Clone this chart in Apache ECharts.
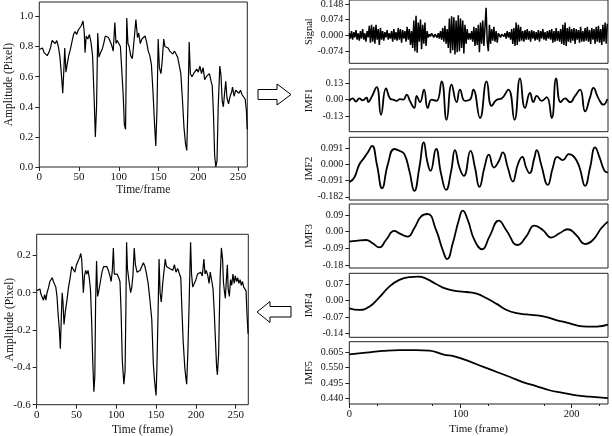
<!DOCTYPE html>
<html><head><meta charset="utf-8">
<script src="https://cdn.jsdelivr.net/npm/echarts@6/dist/echarts.min.js"></script>
<style>html,body{margin:0;padding:0;background:#fff}#c{width:612px;height:436px}</style>
</head><body><div id="c"></div>
<script>
// ---------- DATA ----------
const topFrames = [0,2,4,6,8,10,12,14,16,18,20,22,24,26,28,29.5,31,32,33.5,35,37,39,41,43,45,47,49,51,53,55,56.5,57.5,59,61,63,65,67,69,70.5,72,73.5,75,77,79,81,83,85,87,89,91,93,95,96.5,98,100,102,104,105.5,107,108.5,110,111.5,113,115,117,119,121.5,123.5,125,127,129,131,133,135,137,139,141,143,145,146.5,148,149.5,151,153,154.5,156.5,158,160,162,164,166,168,170,172,174,176,178,180,182,184,185.5,187,188.5,190,192,194,196,198,200,202,204,206,208,210,212,214,216,217.5,219,220.5,222,223.5,225,227,228.5,230,231.5,233,234.5,236,238,240,242,243,245,247,249,251,253,255,257,259,260.5,261.5];
const topAmp = [0.78,0.77,0.79,0.76,0.77,0.74,0.76,0.79,0.84,0.85,0.82,0.84,0.80,0.73,0.60,0.49,0.66,0.79,0.63,0.68,0.74,0.78,0.83,0.88,0.90,0.88,0.91,0.92,0.94,0.97,0.90,0.76,0.87,0.85,0.88,0.83,0.74,0.45,0.20,0.40,0.89,0.73,0.76,0.78,0.82,0.87,0.88,0.86,0.86,0.81,0.77,0.96,0.82,0.84,0.82,0.80,0.79,0.48,0.28,0.25,0.99,0.82,0.80,0.74,0.72,0.83,0.98,0.86,0.89,0.82,0.85,0.86,0.87,0.83,0.77,0.74,0.68,0.50,0.28,0.14,0.38,0.85,0.66,0.62,0.70,0.85,0.80,0.79,0.79,0.77,0.78,0.75,0.77,0.75,0.73,0.72,0.62,0.45,0.26,0.15,0.11,0.42,0.83,0.62,0.60,0.62,0.61,0.65,0.63,0.67,0.62,0.66,0.58,0.60,0.59,0.62,0.57,0.54,0.36,0.08,0.00,0.04,0.40,0.67,0.61,0.44,0.40,0.49,0.57,0.46,0.42,0.47,0.50,0.53,0.47,0.51,0.50,0.49,0.51,0.48,0.47,0.45,0.37,0.25];

const botFrames = [0,1,2.5,4,5.5,7,8.5,10,11.5,13,15,16.5,18,19.5,21,22.5,24,25.5,27,28.5,29.7,31,32,33,34.3,36,38,40,42,44,46,48,50,52,54,55.3,56.5,57.5,58.6,60,61.5,63,64.5,66,67.5,69,70.5,71.8,73,74,75.2,76.5,78,80,82,84,86,88,90,92,93.5,95,96.3,97.5,99,101,103,104.6,106,107.5,109.5,111,112,112.9,114,116,118,119.5,121,122.5,124,126,128,130,132,134,136,138,140,142,144.5,146.5,148,149.9,151,152.5,153.7,155,156.5,158.3,160,161.5,163,165,167,169,171,173,175,177,179,181,182.5,184,186,187.5,188.4,190,191.5,193.3,194.5,196,198,200,202,204,206,208,210,211.5,213,215,216.5,218,220,221.5,223,224.5,226,227,228.5,230,230.5,232,233.5,234.5,236,237,238,239.5,240.5,242,243.5,245,246.5,248,249.5,251,252.5,254,255.5,257,258.5,260,261.5,263,264,265.5];
const botAmp = [0.01,0.02,0.00,0.02,-0.01,0.00,-0.04,-0.01,-0.04,0.00,0.03,0.06,0.05,0.08,0.06,0.07,0.03,-0.02,-0.12,-0.20,-0.30,-0.12,0.00,-0.05,-0.17,-0.10,-0.04,0.03,0.08,0.14,0.13,0.11,0.15,0.16,0.19,0.21,0.18,0.10,0.00,0.09,0.12,0.10,0.12,0.08,0.02,-0.15,-0.38,-0.53,-0.45,-0.05,0.17,-0.02,0.01,0.06,0.11,0.14,0.15,0.14,0.12,0.09,0.06,0.12,0.24,0.10,0.09,0.10,0.08,0.06,-0.10,-0.36,-0.49,-0.42,-0.10,0.27,0.13,0.06,0.00,0.03,0.10,0.24,0.15,0.11,0.10,0.12,0.14,0.16,0.14,0.10,0.05,-0.03,-0.14,-0.38,-0.47,-0.55,-0.40,-0.10,0.18,0.00,-0.05,0.05,0.12,0.18,0.14,0.15,0.13,0.14,0.12,0.15,0.11,0.13,0.12,0.08,-0.10,-0.26,-0.40,-0.46,-0.49,-0.30,-0.05,0.27,0.10,0.03,0.04,0.07,0.10,0.09,0.11,0.09,0.18,0.10,0.12,0.09,0.05,0.11,0.06,0.02,-0.10,-0.25,-0.40,-0.44,-0.33,0.00,0.09,0.24,0.18,0.06,0.00,-0.03,0.05,0.15,0.02,-0.02,0.07,0.04,0.10,0.05,0.09,0.06,0.08,0.05,0.07,0.04,0.06,0.03,0.02,0.01,-0.10,-0.22];

const signalAmp = [
0.01,-0.015,0.02,-0.02,0.015,-0.01,0.025,-0.02,0.01,-0.025,
0.02,-0.015,0.03,-0.02,0.01,-0.03,0.02,-0.01,0.045,-0.035,
0.05,-0.03,0.04,-0.04,0.05,-0.02,0.03,-0.045,0.035,-0.02,
0.02,-0.025,0.015,-0.01,0.025,-0.02,0.01,-0.015,0.02,-0.03,
0.03,-0.02,0.015,-0.025,0.035,-0.02,0.03,-0.035,0.025,-0.015,
0.02,-0.03,0.04,-0.02,0.03,-0.045,0.02,-0.06,0.07,-0.075,
0.092,-0.082,0.06,-0.03,0.075,-0.065,0.05,-0.04,0.06,-0.05,
0.02,-0.01,0.005,-0.005,0.01,0.0,-0.01,0.005,0.0,-0.01,
0.01,-0.015,0.02,-0.02,0.035,-0.03,0.045,-0.04,0.03,-0.06,
0.08,-0.085,0.09,-0.07,0.085,-0.09,0.07,-0.08,0.095,-0.075,
0.08,-0.06,0.07,-0.085,0.05,-0.04,0.03,-0.02,0.01,-0.02,
0.02,-0.03,0.04,-0.05,0.035,-0.045,0.05,-0.08,0.06,-0.04,
0.07,-0.05,0.04,0.13,-0.03,-0.075,0.05,-0.04,0.03,-0.025,
0.04,-0.03,0.02,-0.035,0.01,0.0,-0.01,0.005,0.0,-0.005,
0.01,-0.015,0.02,-0.01,0.015,-0.02,0.03,-0.04,0.035,-0.05,
0.06,-0.045,0.05,-0.03,0.04,-0.025,0.02,-0.03,0.025,-0.02,
0.03,-0.02,0.02,-0.03,0.025,-0.015,0.02,-0.025,0.015,-0.02,
0.025,-0.03,0.02,-0.015,0.03,-0.02,0.015,-0.025,0.02,-0.015,
0.025,-0.02,0.03,-0.035,0.02,-0.03,0.035,-0.025,0.02,-0.03,
0.03,-0.04,0.05,-0.045,0.06,-0.05,0.035,-0.03,0.04,-0.035,
0.03,-0.025,0.035,-0.04,0.03,-0.02,0.025,-0.035,0.04,-0.03,
0.02,-0.03,0.035,-0.025,0.04,-0.03,0.025,-0.04,0.035,-0.02,
0.03,-0.04,0.04,-0.03,0.045,-0.035,0.03,-0.045,0.05,-0.03,
0.06,-0.04,0.055];

const imf1Frames = [0,3,6,9,12,15.6,17,20,24.6,28.5,33,36.6,39.5,42.5,45.5,48.6,51.6,54.5,58.4,60.6,63.6,67.2,70.5,74,78.5,83,87.5,92,96.5,99.5,104,108.5,111.5,117.5,123.5,128,132.5,137,143,148.5,153.5,158,162.5,165.5,168.5,173,177.5,182,186,190,194,198.5,203,207.5,212,216.5,219.5,224,228.5,232];
const imf1 = [-0.01,0.01,-0.015,0.01,-0.005,0.015,-0.02,0.02,0.10,-0.12,0.09,0.01,0.0,-0.01,0.005,0.0,0.04,-0.01,-0.066,0.03,-0.02,0.08,-0.066,0.0,-0.01,0.146,-0.16,0.12,-0.02,0.08,-0.01,0.0,0.08,-0.146,0.146,-0.05,0.0,0.01,0.08,-0.16,0.17,-0.066,0.053,-0.02,0.03,-0.01,0.02,-0.146,0.17,-0.02,0.01,-0.02,0.03,0.08,-0.093,0.02,0.093,0.01,-0.04,0.005];

const imf2Frames = [0,4.5,9,13.6,16.6,20.5,24.8,29.5,34.6,40.5,45,49.5,54,58.5,63,67,70,73,78,82.6,87,91.6,95,99,103,109,113,117,121.5,125.5,130,134.5,138,142.5,147,151.5,155.5,159,162,166.5,168.5,172.5,178.5,183,187,192,197.5,202.5,207,212,216.5,221,225,229.5,232.5];
const imf2 = [-0.10,-0.073,0.0,0.04,0.068,0.105,0.0,-0.134,0.0,0.087,0.077,0.058,-0.036,-0.149,-0.017,0.124,0.02,-0.036,0.087,-0.055,-0.143,-0.036,0.081,-0.017,-0.064,0.077,-0.017,-0.126,-0.017,0.055,-0.017,0.02,0.068,-0.017,-0.096,0.0,0.043,-0.017,-0.049,0.04,0.081,0.0,-0.115,-0.017,0.043,0.025,0.058,0.04,-0.017,-0.12,-0.017,0.096,0.04,-0.036,-0.045];

const imf3Frames = [0,6,15,21,27,33,40.5,45,52.4,58.4,64.4,70.4,78,84,88,93,98.5,102,106.5,112.5,119.5,126,134.5,141,151.5,159,166.5,174,181.5,189,196.5,204,212,219,226.5,232.5];
const imf3 = [-0.054,-0.05,-0.045,-0.063,-0.085,-0.045,0.004,-0.009,-0.027,0.018,0.081,0.095,0.009,-0.099,-0.148,-0.063,0.063,0.113,0.063,-0.045,-0.095,-0.027,0.059,0.009,-0.072,-0.027,0.032,0.009,-0.032,-0.009,0.013,-0.018,-0.067,-0.045,0.018,0.054];

const imf4Frames = [0,9,18,27,36,45,54.5,62,69.5,78,87.5,96.5,105.5,114.5,123.5,132.5,141.5,150.5,159.5,168.5,177.5,186,195.5,204.5,213.5,222.5,232.5];
const imf4 = [-0.033,-0.04,-0.026,0.014,0.06,0.089,0.101,0.103,0.093,0.071,0.05,0.041,0.037,0.03,0.01,-0.014,-0.04,-0.054,-0.059,-0.063,-0.071,-0.083,-0.094,-0.106,-0.111,-0.111,-0.103];

const imf5Frames = [0,15,30,45,60,72,84,96,108,120,132,144,156,168,180,192,204,216,232.5];
const imf5 = [0.597,0.603,0.609,0.612,0.612,0.610,0.597,0.588,0.572,0.553,0.535,0.517,0.498,0.484,0.469,0.460,0.451,0.446,0.441];

// tick labels
const topYTicks = [0, 0.2, 0.4, 0.6, 0.8, 1.0];
const leftXTicks = [0, 50, 100, 150, 200, 250];
const botYTicks = [-0.6, -0.4, -0.2, 0, 0.2];
const signalTicks = [-0.074, 0, 0.074, 0.148];
const imf1Ticks = [-0.13, 0, 0.13];
const imf2Ticks = [-0.182, -0.091, 0, 0.091];
const imf3Ticks = [-0.18, -0.09, 0, 0.09];
const imf4Ticks = [-0.14, -0.07, 0, 0.07];
const imf5Ticks = [0.44, 0.495, 0.55, 0.605];
const rightXTicks = [0, 100, 200];

// ---------- CHART ----------
const zip = (xs, ys) => xs.map((x, i) => [x, ys[i]]);
const FONT = 'Liberation Serif';
const AX = '#222';

function mkGrid(l, t, w, h) {
  return {left: l, top: t, width: w, height: h, show: true, borderColor: AX, borderWidth: 1,
          backgroundColor: 'transparent', containLabel: false, outerBoundsMode: 'none'};
}
function mkY(gi, min, max, ticks, dec, name, gap, fs) {
  return {type: 'value', gridIndex: gi, min: min, max: max,
    axisLine: {show: false, onZero: false}, splitLine: {show: false},
    axisTick: {show: true, inside: false, length: 4, customValues: ticks, lineStyle: {color: AX}},
    axisLabel: {customValues: ticks, margin: 6, color: '#111', fontFamily: FONT, fontSize: fs,
      formatter: v => Number(v).toFixed(dec)},
    name: name, nameLocation: 'middle', nameRotate: 90, nameGap: gap, nameMoveOverlap: false,
    nameTextStyle: {fontFamily: FONT, fontSize: fs + 0.5, color: '#111'}};
}
function mkX(gi, min, max, ticks, name, gap, fs, showLabels) {
  return {type: 'value', gridIndex: gi, min: min, max: max,
    axisLine: {show: false, onZero: false}, splitLine: {show: false},
    axisTick: {show: !!ticks, inside: false, length: 4, customValues: ticks || [], lineStyle: {color: AX}},
    axisLabel: {show: !!showLabels, customValues: ticks || [], margin: 5, color: '#111', fontFamily: FONT, fontSize: fs},
    name: name || '', nameLocation: 'middle', nameGap: gap, nameMoveOverlap: false,
    nameTextStyle: {fontFamily: FONT, fontSize: fs + 0.5, color: '#111'}};
}
function mkLine(gi, data, w, smooth) {
  return {type: 'line', xAxisIndex: gi, yAxisIndex: gi, data: data, showSymbol: false, symbol: 'none',
    smooth: smooth || false, animation: false, lineStyle: {color: '#000', width: w}, z: 3};
}

const RL = 349.3, RW = 258.7, RXMAX = 232.6;
const grids = [
  mkGrid(39.3, 2, 208, 165),
  mkGrid(36.7, 234.3, 211.6, 170.4),
  mkGrid(RL, 0, RW, 63.3),
  mkGrid(RL, 69, RW, 62.7),
  mkGrid(RL, 137.3, RW, 62.7),
  mkGrid(RL, 204, RW, 64),
  mkGrid(RL, 273.3, RW, 64),
  mkGrid(RL, 341.7, RW, 62.3)
];
const xAxes = [
  mkX(0, 0, 261.6, leftXTicks, 'Time/frame', 17, 11, true),
  mkX(1, 0, 265.8, leftXTicks, 'Time (frame)', 19, 11, true),
  mkX(2, 0, RXMAX, null), mkX(3, 0, RXMAX, null), mkX(4, 0, RXMAX, null),
  mkX(5, 0, RXMAX, null), mkX(6, 0, RXMAX, null),
  mkX(7, 0, RXMAX, rightXTicks, 'Time (frame)', 20, 10.5, true)
];
xAxes[7].minorTick = {show: true, splitNumber: 2, length: 2, lineStyle: {color: AX}};
const yAxes = [
  mkY(0, 0, 1.096, topYTicks, 1, 'Amplitude (Pixel)', 24, 11),
  mkY(1, -0.6, 0.313, botYTicks, 1, 'Amplitude (Pixel)', 21, 11),
  mkY(2, -0.132, 0.167, signalTicks, 3, 'Signal', 35, 10),
  mkY(3, -0.255, 0.244, imf1Ticks, 2, 'IMF1', 35, 10),
  mkY(4, -0.2, 0.153, imf2Ticks, 3, 'IMF2', 35, 10),
  mkY(5, -0.196, 0.149, imf3Ticks, 2, 'IMF3', 35, 10),
  mkY(6, -0.157, 0.117, imf4Ticks, 2, 'IMF4', 35, 10),
  mkY(7, 0.42, 0.642, imf5Ticks, 3, 'IMF5', 35, 10)
];
const series = [
  mkLine(0, zip(topFrames, topAmp), 1.2),
  mkLine(1, zip(botFrames, botAmp), 1.2),
  mkLine(2, signalAmp.map((v, i) => [i, v]), 1.5),
  mkLine(3, zip(imf1Frames, imf1), 1.8, 0.5),
  mkLine(4, zip(imf2Frames, imf2), 1.8, 0.5),
  mkLine(5, zip(imf3Frames, imf3), 1.8, 0.5),
  mkLine(6, zip(imf4Frames, imf4), 1.8, 0.5),
  mkLine(7, zip(imf5Frames, imf5), 1.8, 0.5)
];
const arrowStyle = {fill: '#fff', stroke: '#000', lineWidth: 1};
const graphic = [
  {type: 'polygon', shape: {points: [[258,89.5],[277,89.5],[277,84],[291,94.5],[277,105],[277,99.5],[258,99.5]]}, style: arrowStyle, z: 10},
  {type: 'polygon', shape: {points: [[291,306.5],[270,306.5],[270,301.5],[257,312],[270,322.5],[270,317],[291,317]]}, style: arrowStyle, z: 10}
];
const chart = echarts.init(document.getElementById('c'), null, {renderer: 'canvas'});
chart.setOption({animation: false, backgroundColor: '#fff', textStyle: {fontFamily: FONT},
  grid: grids, xAxis: xAxes, yAxis: yAxes, series: series, graphic: graphic});
</script>
</body></html>
